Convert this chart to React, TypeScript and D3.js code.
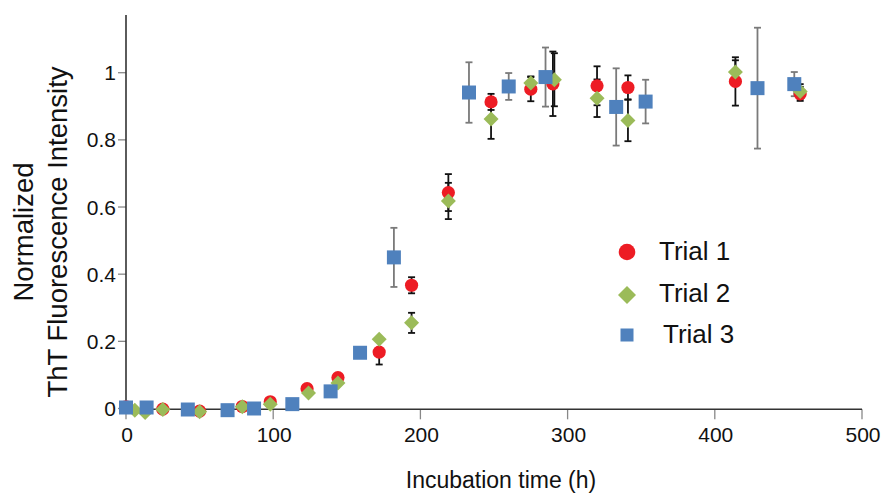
import React from "react";
import * as d3 from "d3";

const xTicks = [0, 100, 200, 300, 400, 500];
const yTicks = [0, 0.2, 0.4, 0.6, 0.8, 1];
const yTickLabels = ["0", "0.2", "0.4", "0.6", "0.8", "1"];

// Trial 1 (red circles)
const t1Time = [0, 25, 50, 79, 98, 123, 144, 172, 194, 219, 248, 275, 290, 320, 341, 414, 458];
const t1Value = [0.005, -0.002, -0.008, 0.006, 0.02, 0.059, 0.092, 0.168, 0.367, 0.643, 0.913, 0.951, 0.967, 0.961, 0.956, 0.974, 0.937];
const t1Err = [0, 0, 0, 0, 0, 0, 0, 0.037, 0.024, 0.055, 0.024, 0.036, 0.096, 0.058, 0.036, 0.072, 0.021];

// Trial 2 (green diamonds)
const t2Time = [6, 13, 25, 50, 79, 98, 124, 144, 172, 194, 219, 248, 275, 291, 320, 341, 414, 458];
const t2Value = [-0.005, -0.012, -0.003, -0.01, 0.005, 0.013, 0.046, 0.076, 0.206, 0.255, 0.618, 0.862, 0.969, 0.979, 0.924, 0.858, 1.002, 0.944];
const t2Err = [0, 0, 0, 0, 0, 0, 0, 0, 0, 0.03, 0.054, 0.059, 0.02, 0.079, 0.056, 0.062, 0.035, 0.022];

// Trial 3 (blue squares)
const t3Time = [0, 14, 42, 69, 87, 113, 139, 159, 182, 233, 260, 285, 333, 353, 429, 454];
const t3Value = [0.003, 0.003, -0.003, -0.005, 0, 0.013, 0.051, 0.166, 0.45, 0.941, 0.959, 0.987, 0.898, 0.914, 0.954, 0.966];
const t3Err = [0, 0, 0, 0, 0, 0, 0, 0, 0.088, 0.09, 0.04, 0.088, 0.115, 0.065, 0.18, 0.036];

const legendLabels = ["Trial 1", "Trial 2", "Trial 3"];

const RED = "#ED1C24";
const GREEN = "#9BBB59";
const BLUE = "#4F81BD";
const FONT = "'Liberation Sans', Arial, Helvetica, sans-serif";

const W = 886;
const H = 495;
const x = d3.scaleLinear().domain([0, 500]).range([126, 862]);
const y = d3.scaleLinear().domain([0, 1]).range([408.5, 72.7]);
const yTop = 15;
const xAxisY = 409.3;

type Pt = { t: number; v: number; e: number };
const zip = (ts: number[], vs: number[], es: number[]): Pt[] =>
  ts.map((t, i) => ({ t, v: vs[i], e: es[i] }));

const s1 = zip(t1Time, t1Value, t1Err);
const s2 = zip(t2Time, t2Value, t2Err);
const s3 = zip(t3Time, t3Value, t3Err);

const circlePath = d3.symbol().type(d3.symbolCircle).size(Math.PI * 6.6 * 6.6)() as string;
const diamondPath = "M0,-7.5L7.5,0L0,7.5L-7.5,0Z";
const squarePath = "M-7,-7H7V7H-7Z";

function ErrorBars({ data, color, cap }: { data: Pt[]; color: string; cap: number }) {
  return (
    <g stroke={color} strokeWidth={1.8} fill="none">
      {data
        .filter((d) => d.e > 0)
        .map((d, i) => {
          const cx = x(d.t);
          const y1 = y(d.v + d.e);
          const y2 = y(d.v - d.e);
          return (
            <g key={i}>
              <line x1={cx} x2={cx} y1={y1} y2={y2} />
              <line x1={cx - cap} x2={cx + cap} y1={y1} y2={y1} />
              <line x1={cx - cap} x2={cx + cap} y1={y2} y2={y2} />
            </g>
          );
        })}
    </g>
  );
}

function Markers({ data, path, color }: { data: Pt[]; path: string; color: string }) {
  return (
    <g fill={color}>
      {data.map((d, i) => (
        <path key={i} d={path} transform={`translate(${x(d.t)},${y(d.v)})`} />
      ))}
    </g>
  );
}

export default function App() {
  return (
    <svg
      width={W}
      height={H}
      viewBox={`0 0 ${W} ${H}`}
      style={{ position: "absolute", left: 0, top: 0, background: "#fff" }}
      fontFamily={FONT}
    >
      <rect width={W} height={H} fill="#fff" />
      {/* axes */}
      <g>
        {yTicks.map((v, i) => (
          <line key={"yt" + i} x1={118} x2={126} y1={y(v)} y2={y(v)} stroke="#888" strokeWidth={1.3} />
        ))}
        {xTicks.map((v, i) => (
          <line key={"xt" + i} x1={x(v)} x2={x(v)} y1={xAxisY} y2={xAxisY + 10} stroke="#888" strokeWidth={1.3} />
        ))}
        <line x1={x(0)} x2={x(0)} y1={yTop} y2={xAxisY} stroke="#333" strokeWidth={1.6} />
        <line x1={x(0)} x2={x(500)} y1={xAxisY} y2={xAxisY} stroke="#333" strokeWidth={1.6} />
        {yTicks.map((v, i) => (
          <text key={"yl" + i} x={116} y={y(v)} dy="0.36em" textAnchor="end" fontSize={21} fill="#111">
            {yTickLabels[i]}
          </text>
        ))}
        {xTicks.map((v, i) => (
          <text key={"xl" + i} x={x(v) + 1} y={442} textAnchor="middle" fontSize={21} fill="#111">
            {v}
          </text>
        ))}
      </g>
      {/* titles */}
      <text x={501} y={488} textAnchor="middle" fontSize={23} fill="#111">
        Incubation time (h)
      </text>
      <text transform="translate(33,232) rotate(-90)" textAnchor="middle" fontSize={27.5} fill="#111">
        Normalized
      </text>
      <text transform="translate(66.5,232) rotate(-90)" textAnchor="middle" fontSize={27.5} fill="#111">
        ThT Fluorescence Intensity
      </text>
      {/* data */}
      <ErrorBars data={s3} color="#7a7a7a" cap={3.5} />
      <ErrorBars data={s1} color="#111" cap={3.5} />
      <ErrorBars data={s2} color="#111" cap={3.5} />
      <Markers data={s1} path={circlePath} color={RED} />
      <Markers data={s2} path={diamondPath} color={GREEN} />
      <Markers data={s3} path={squarePath} color={BLUE} />
      {/* legend */}
      <g>
        <circle cx={627} cy={252} r={8.3} fill={RED} />
        <path d="M0,-9L9,0L0,9L-9,0Z" transform="translate(627,295)" fill={GREEN} />
        <rect x={620.5} y={328.5} width={13} height={13} fill={BLUE} />
        <text x={659} y={260} fontSize={26} fill="#111">{legendLabels[0]}</text>
        <text x={659} y={302} fontSize={26} fill="#111">{legendLabels[1]}</text>
        <text x={663} y={343} fontSize={26} fill="#111">{legendLabels[2]}</text>
      </g>
    </svg>
  );
}
